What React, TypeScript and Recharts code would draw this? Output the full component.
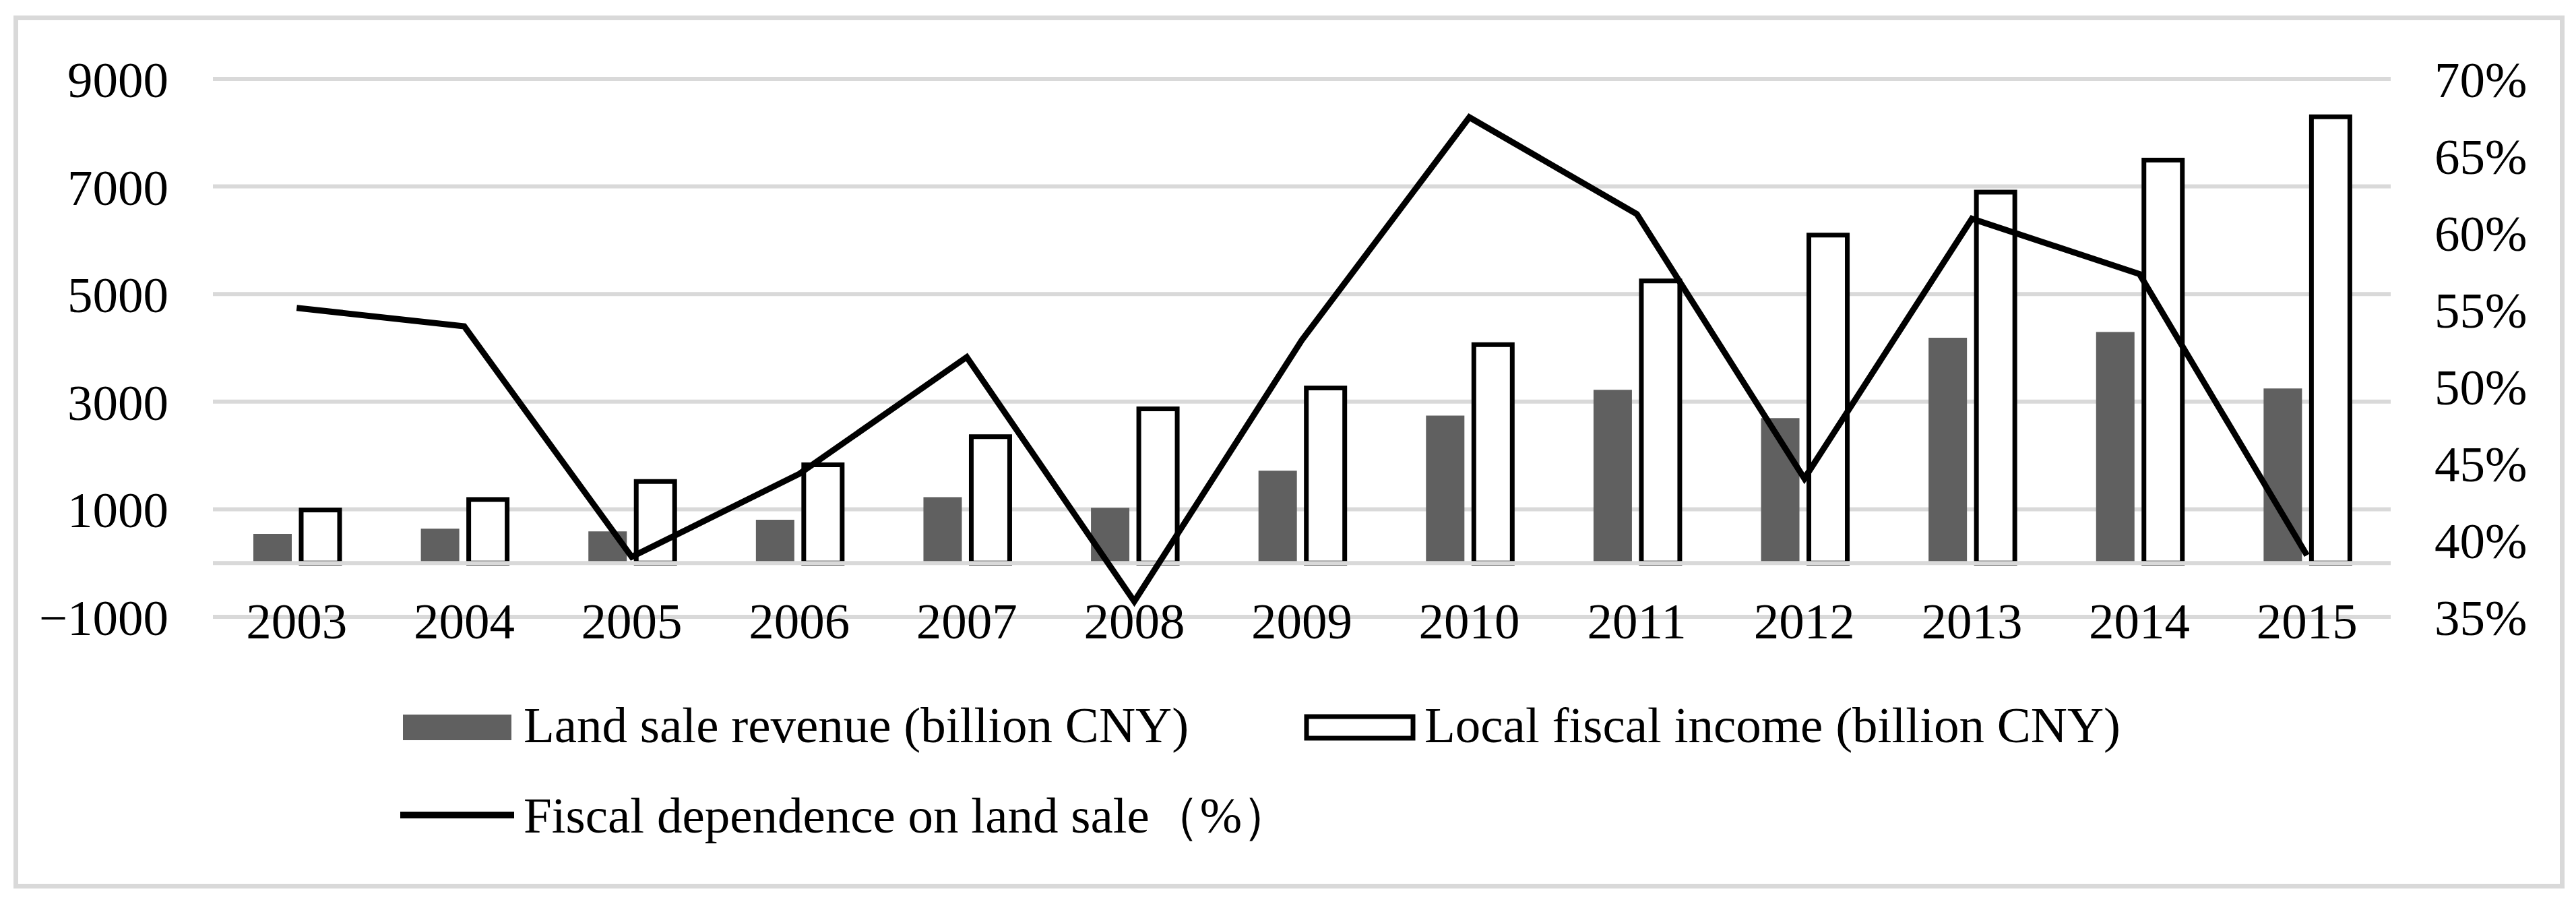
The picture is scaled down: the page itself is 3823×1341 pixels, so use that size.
import React from 'react';
import {
  ComposedChart,
  Bar,
  Line,
  XAxis,
  YAxis,
  CartesianGrid,
  ReferenceLine,
  Legend,
} from 'recharts';

const years = ['2003', '2004', '2005', '2006', '2007', '2008', '2009', '2010', '2011', '2012', '2013', '2014', '2015'];
const landSaleRevenue = [540, 640, 588, 805, 1225, 1026, 1717, 2742, 3220, 2694, 4187, 4293, 3246];
const localFiscalIncome = [985, 1180, 1515, 1825, 2350, 2865, 3255, 4060, 5245, 6095, 6895, 7490, 8295];
const fiscalDependence = [55.1, 53.9, 38.9, 44.3, 51.9, 36.0, 53.0, 67.5, 61.2, 44.0, 60.9, 57.3, 39.0];

const leftTicks = [-1000, 1000, 3000, 5000, 7000, 9000];
const rightTicks = [35, 40, 45, 50, 55, 60, 65, 70];

const seriesNames = {
  land: 'Land sale revenue (billion CNY)',
  fiscal: 'Local fiscal income (billion CNY)',
  dep: 'Fiscal dependence on land sale（%）',
};

const data = years.map((year, i) => ({
  year,
  land: landSaleRevenue[i],
  fiscal: localFiscalIncome[i],
  dep: fiscalDependence[i],
}));

const FONT = '"Liberation Serif", "Times New Roman", serif';
const FS = 75;
const GRID = '#d9d9d9';
const LAND = '#606060';

const XTick = (props: any) => {
  const { x, y, payload } = props;
  return (
    <text x={x} y={y + 32} textAnchor="middle" fill="#000" fontSize={FS} fontFamily={FONT}>
      {payload.value}
    </text>
  );
};

const LeftTick = (props: any) => {
  const { x, y, payload } = props;
  const v = payload.value as number;
  const label = v < 0 ? '\u2212' + Math.abs(v) : String(v);
  return (
    <text x={x} y={y + 27} textAnchor="end" fill="#000" fontSize={FS} fontFamily={FONT}>
      {label}
    </text>
  );
};

const RightTick = (props: any) => {
  const { x, y, payload } = props;
  return (
    <text x={x} y={y + 27} textAnchor="start" fill="#000" fontSize={FS} fontFamily={FONT}>
      {payload.value + '%'}
    </text>
  );
};

const LegendContent = () => (
  <svg width={3823} height={320} style={{ display: 'block' }}>
    <rect x={598} y={60} width={161} height={38} fill={LAND} />
    <text x={777} y={101} fontSize={FS} fontFamily={FONT} fill="#000">{seriesNames.land}</text>
    <rect x={1939} y={63} width={158} height={32} fill="#fff" stroke="#000" strokeWidth={7} />
    <text x={2114} y={101} fontSize={FS} fontFamily={FONT} fill="#000">{seriesNames.fiscal}</text>
    <line x1={594} x2={763} y1={209} y2={209} stroke="#000" strokeWidth={10} />
    <text x={777} y={235} fontSize={FS} fontFamily={FONT} fill="#000">{seriesNames.dep}</text>
  </svg>
);

export default function App() {
  return (
    <div style={{ position: 'absolute', left: 0, top: 0, width: 3823, height: 1341, background: '#fff' }}>
      <div
        style={{
          position: 'absolute',
          left: 20,
          top: 23,
          width: 3786,
          height: 1295,
          border: `7px solid ${GRID}`,
          boxSizing: 'border-box',
          pointerEvents: 'none',
        }}
      />
      <ComposedChart
        width={3823}
        height={1341}
        data={data}
        margin={{ top: 117, right: 20, bottom: 326, left: 20 }}
        barSize={57}
        barGap={14}
      >
        <CartesianGrid yAxisId="left" vertical={false} stroke={GRID} strokeWidth={6} />
        <XAxis
          dataKey="year"
          height={100}
          axisLine={false}
          tickLine={false}
          tickSize={0}
          tickMargin={0}
          interval={0}
          tick={<XTick />}
        />
        <YAxis
          yAxisId="left"
          orientation="left"
          width={296}
          domain={[-1000, 9000]}
          ticks={leftTicks}
          interval={0}
          axisLine={false}
          tickLine={false}
          tickSize={0}
          tickMargin={66}
          tick={<LeftTick />}
        />
        <YAxis
          yAxisId="right"
          orientation="right"
          width={255}
          domain={[35, 70]}
          ticks={rightTicks}
          interval={0}
          axisLine={false}
          tickLine={false}
          tickSize={0}
          tickMargin={65}
          tick={<RightTick />}
        />
        <Bar yAxisId="left" dataKey="land" name={seriesNames.land} fill={LAND} isAnimationActive={false} />
        <Bar
          yAxisId="left"
          dataKey="fiscal"
          name={seriesNames.fiscal}
          fill="#fff"
          stroke="#000"
          strokeWidth={7}
          isAnimationActive={false}
        />
        <ReferenceLine yAxisId="left" y={0} stroke={GRID} strokeWidth={6} />
        <Line
          yAxisId="right"
          type="linear"
          dataKey="dep"
          name={seriesNames.dep}
          stroke="#000"
          strokeWidth={9}
          dot={false}
          activeDot={false}
          isAnimationActive={false}
        />
        <Legend
          layout="vertical"
          align="center"
          verticalAlign="middle"
          content={<LegendContent />}
          wrapperStyle={{ position: 'absolute', left: 0, top: 1000, width: 3823, height: 320, margin: 0 }}
        />
      </ComposedChart>
    </div>
  );
}
